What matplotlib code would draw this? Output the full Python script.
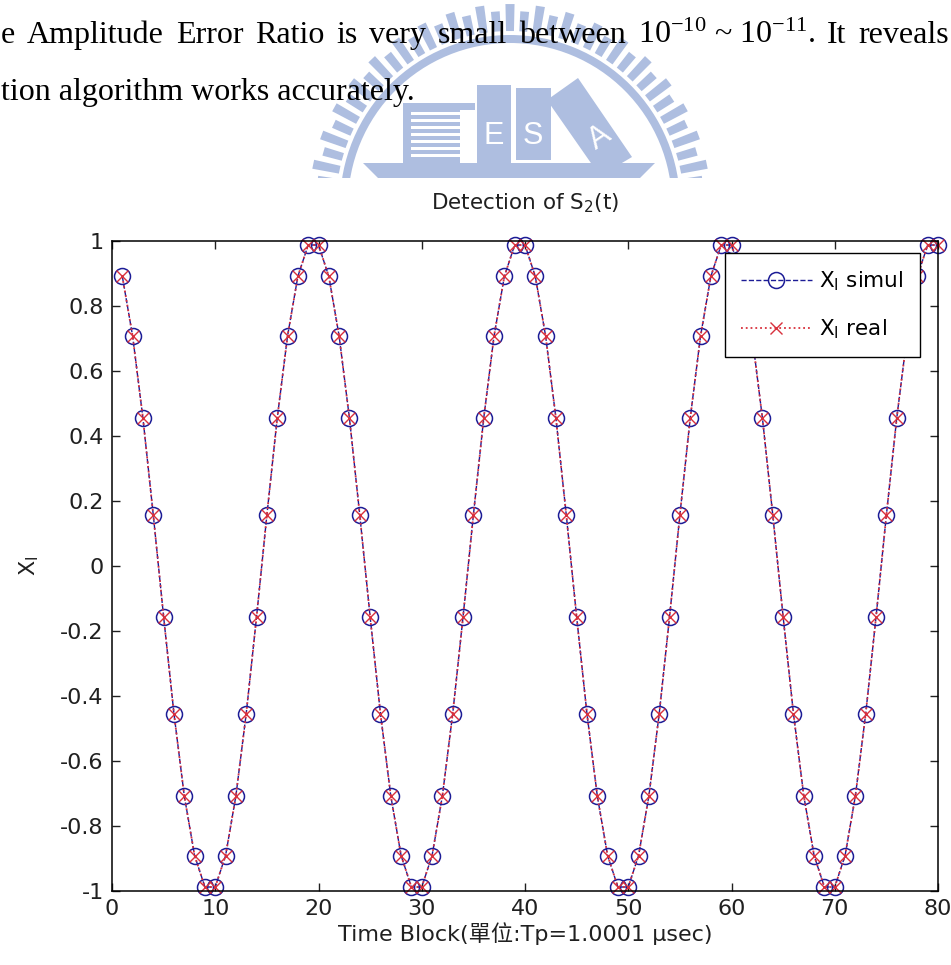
import numpy as np
import matplotlib
matplotlib.use('Agg')
import matplotlib.pyplot as plt
from matplotlib.patches import Polygon, Rectangle, Wedge

plt.rcParams['font.family'] = ['DejaVu Sans', 'Noto Sans CJK TC']
plt.rcParams['mathtext.default'] = 'regular'

# detected amplitude per time block
time_block = list(range(1, 81))
xi_simul = [0.8910, 0.7071, 0.4540, 0.1564, -0.1564, -0.4540, -0.7071, -0.8910, -0.9877, -0.9877,
            -0.8910, -0.7071, -0.4540, -0.1564, 0.1564, 0.4540, 0.7071, 0.8910, 0.9877, 0.9877,
            0.8910, 0.7071, 0.4540, 0.1564, -0.1564, -0.4540, -0.7071, -0.8910, -0.9877, -0.9877,
            -0.8910, -0.7071, -0.4540, -0.1564, 0.1564, 0.4540, 0.7071, 0.8910, 0.9877, 0.9877,
            0.8910, 0.7071, 0.4540, 0.1564, -0.1564, -0.4540, -0.7071, -0.8910, -0.9877, -0.9877,
            -0.8910, -0.7071, -0.4540, -0.1564, 0.1564, 0.4540, 0.7071, 0.8910, 0.9877, 0.9877,
            0.8910, 0.7071, 0.4540, 0.1564, -0.1564, -0.4540, -0.7071, -0.8910, -0.9877, -0.9877,
            -0.8910, -0.7071, -0.4540, -0.1564, 0.1564, 0.4540, 0.7071, 0.8910, 0.9877, 0.9877]
xi_real = [0.8910, 0.7071, 0.4540, 0.1564, -0.1564, -0.4540, -0.7071, -0.8910, -0.9877, -0.9877,
           -0.8910, -0.7071, -0.4540, -0.1564, 0.1564, 0.4540, 0.7071, 0.8910, 0.9877, 0.9877,
           0.8910, 0.7071, 0.4540, 0.1564, -0.1564, -0.4540, -0.7071, -0.8910, -0.9877, -0.9877,
           -0.8910, -0.7071, -0.4540, -0.1564, 0.1564, 0.4540, 0.7071, 0.8910, 0.9877, 0.9877,
           0.8910, 0.7071, 0.4540, 0.1564, -0.1564, -0.4540, -0.7071, -0.8910, -0.9877, -0.9877,
           -0.8910, -0.7071, -0.4540, -0.1564, 0.1564, 0.4540, 0.7071, 0.8910, 0.9877, 0.9877,
           0.8910, 0.7071, 0.4540, 0.1564, -0.1564, -0.4540, -0.7071, -0.8910, -0.9877, -0.9877,
           -0.8910, -0.7071, -0.4540, -0.1564, 0.1564, 0.4540, 0.7071, 0.8910, 0.9877, 0.9877]

xticks = [0, 10, 20, 30, 40, 50, 60, 70, 80]
yticks = [-1, -0.8, -0.6, -0.4, -0.2, 0, 0.2, 0.4, 0.6, 0.8, 1]
ytick_labels = ['-1', '-0.8', '-0.6', '-0.4', '-0.2', '0', '0.2', '0.4', '0.6', '0.8', '1']

fig = plt.figure(figsize=(9.51, 9.65), dpi=100)
renderer = fig.canvas.get_renderer()

# page background: text lines and the watermark, in pixel units
bg = fig.add_axes([0, 0, 1, 1], zorder=0)
bg.set_xlim(0, 951)
bg.set_ylim(965, 0)
bg.axis('off')

logo = '#aebee0'
clip = Rectangle((0, 0), 951, 178, transform=bg.transData)
cx, cy = 510, 205
half = np.radians(1.3)
for k, a in enumerate(np.linspace(np.radians(3), np.radians(177), 41)):
    r_out = 201 if k % 2 == 0 else 194
    pts = [(cx + r * np.cos(t), cy - r * np.sin(t))
           for r, t in [(174, a - half), (174, a + half), (r_out, a + half), (r_out, a - half)]]
    p = Polygon(pts, closed=True, color=logo, lw=0)
    bg.add_patch(p)
    p.set_clip_path(clip)
ring = Wedge((cx, cy), 170, 180, 360, width=8, color=logo, lw=0)
bg.add_patch(ring)
ring.set_clip_path(clip)

bg.add_patch(Polygon([(363, 163), (655, 163), (640, 178), (378, 178)], color=logo, lw=0))
bg.add_patch(Rectangle((403, 103), 57, 60, color=logo, lw=0))
bg.add_patch(Rectangle((403, 103), 72, 7, color=logo, lw=0))
for ys in [112, 119, 126, 133, 140, 147, 154]:
    bg.add_patch(Rectangle((411, ys), 49, 2.5, color='white', lw=0))
bg.add_patch(Rectangle((477, 85), 34, 78, color=logo, lw=0))
bg.add_patch(Rectangle((516, 88), 35, 72, color=logo, lw=0))
bg.add_patch(Polygon([(547, 100), (578, 78), (632, 157), (600, 176)], color=logo, lw=0))
bg.text(494, 136, 'E', color='white', fontsize=22, family='Liberation Sans',
        ha='center', va='center')
bg.text(533, 136, 'S', color='white', fontsize=22, family='Liberation Sans',
        ha='center', va='center')
bg.text(600, 138, 'A', color='white', fontsize=22, family='Liberation Sans',
        ha='center', va='center', rotation=34)

# paragraph text above the figure, first line justified across the page
serif = dict(family='Liberation Serif', fontsize=23, color='black', va='baseline', zorder=5)
line1 = ['e', 'Amplitude', 'Error', 'Ratio', 'is', 'very', 'small', 'between',
         '10$^{-10}$ ~ 10$^{-11}$.', 'It', 'reveals']
words = [bg.text(0, 43, w, **serif) for w in line1]
widths = [t.get_window_extent(renderer).width for t in words]
gap = (949 - 1 - sum(widths)) / (len(words) - 1)
x = 1
for t, w in zip(words, widths):
    t.set_x(x)
    x += w + gap
bg.text(1, 100, 'tion algorithm works accurately.', **serif)

# the detection plot
ax = fig.add_axes([112 / 951, 1 - 891 / 965, 826 / 951, 650 / 965], zorder=1)
blue = '#1c1c96'
red = '#d8303c'
ax.plot(time_block, xi_simul, '--o', color=blue, mfc='none', mec=blue, ms=11.5, mew=1.1,
        lw=1.0, label='X$_I$ simul', clip_on=False)
ax.plot(time_block, xi_real, ':x', color=red, ms=8, mew=1.0, lw=1.3,
        label='X$_I$ real', clip_on=False)

ax.set_xlim(0, 80)
ax.set_ylim(-1, 1)
ax.set_xticks(xticks)
ax.set_yticks(yticks)
ax.set_yticklabels(ytick_labels)
ax.tick_params(direction='in', top=True, right=True, length=6, width=1,
               labelsize=16, pad=6, colors='#202020')
for s in ax.spines.values():
    s.set_linewidth(1.1)

ax.set_title('Detection of S$_2$(t)', fontsize=15.5, pad=23, color='#202020')
ax.set_xlabel('Time Block(單位:Tp=1.0001 μsec)', fontsize=16, labelpad=2, color='#202020')
ax.set_ylabel('X$_I$', fontsize=16, labelpad=14, color='#202020')

leg = ax.legend(loc='upper right', bbox_to_anchor=(0.978, 0.9815), borderaxespad=0,
                fontsize=15.5, fancybox=False, edgecolor='black', framealpha=1,
                handlelength=3.3, handletextpad=0.35, labelspacing=1.15,
                borderpad=0.75, numpoints=1)
leg.get_frame().set_linewidth(1.0)

fig.savefig('out.png', dpi=100)
